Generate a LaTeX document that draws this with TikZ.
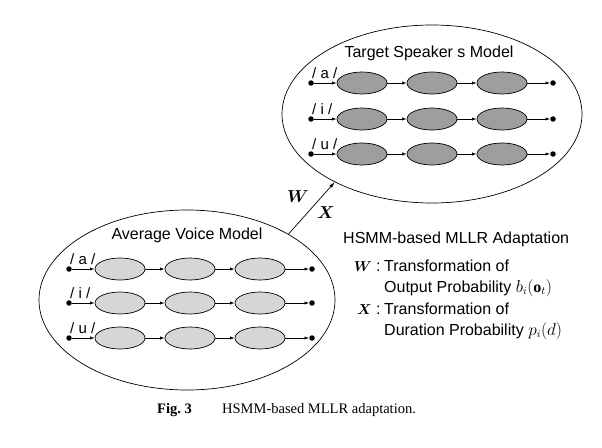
\documentclass[tikz,border=0pt]{standalone}
\usepackage{fontspec}
\setmainfont{Liberation Serif}
\setsansfont{Liberation Sans}
\usepackage{amsmath,bm}
\usetikzlibrary{shapes.geometric,arrows.meta}
\definecolor{topgray}{gray}{0.62}
\definecolor{botgray}{gray}{0.84}
\begin{document}
\begin{tikzpicture}[x=1pt,y=-1pt,
  bigell/.style={draw,ellipse,line width=0.7pt,inner sep=0pt},
  state/.style={draw,ellipse,line width=0.7pt,inner sep=0pt,minimum width=50pt,minimum height=22pt},
  dotnode/.style={circle,fill,inner sep=0pt,minimum size=5.5pt},
  tr/.style={-{Latex[length=4.5pt,width=3.2pt]},line width=0.7pt},
  lab/.style={font=\fontsize{15}{17}\selectfont\sffamily,inner sep=0pt},
  ttl/.style={font=\fontsize{16}{19}\selectfont\sffamily,inner sep=0pt},
  leg/.style={font=\fontsize{16}{19}\selectfont\sffamily,inner sep=0pt,anchor=base west},
  legsym/.style={font=\fontsize{14}{17}\selectfont,inner sep=0pt,anchor=base east},
  captxt/.style={font=\fontsize{14.5}{17}\selectfont\rmfamily,inner sep=0pt,anchor=base west}]
\useasboundingbox (0,0) rectangle (602,447);
\fill[white] (0,0) rectangle (602,447);

% big ellipses
\node[bigell,minimum width=300pt,minimum height=178pt] (top) at (432,114) {};
\node[bigell,minimum width=296pt,minimum height=180pt] (bot) at (187,300) {};

\node[ttl] (ttop) at (429,53) {Target Speaker s Model};
\node[ttl] (tbot) at (187,235) {Average Voice Model};

% top rows
\foreach \y/\ph/\n in {83/a/1,119/i/2,154/u/3}{
  \node[dotnode] (ts\n) at (311,\y) {};
  \node[state,fill=topgray] (ta\n) at (362,\y) {};
  \node[state,fill=topgray] (tb\n) at (432,\y) {};
  \node[state,fill=topgray] (tc\n) at (502,\y) {};
  \node[dotnode] (te\n) at (553,\y) {};
  \draw[tr] (ts\n) -- (ta\n);
  \draw[tr] (ta\n) -- (tb\n);
  \draw[tr] (tb\n) -- (tc\n);
  \draw[tr] (tc\n) -- (te\n);
  \node[lab,anchor=base west] (tl\n) at (312,\y-5) {/ \ph\ /};
}
% bottom rows
\foreach \y/\ph/\n in {269/a/1,303/i/2,338/u/3}{
  \node[dotnode] (bs\n) at (69,\y) {};
  \node[state,fill=botgray] (ba\n) at (120,\y) {};
  \node[state,fill=botgray] (bb\n) at (190,\y) {};
  \node[state,fill=botgray] (bc\n) at (260,\y) {};
  \node[dotnode] (be\n) at (312,\y) {};
  \draw[tr] (bs\n) -- (ba\n);
  \draw[tr] (ba\n) -- (bb\n);
  \draw[tr] (bb\n) -- (bc\n);
  \draw[tr] (bc\n) -- (be\n);
  \node[lab,anchor=base west] (bl\n) at (70,\y-5) {/ \ph\ /};
}

% adaptation arrow
\draw[-{Latex[length=6pt,width=3.5pt]},line width=0.7pt] (bot.33) -- (top.215);
\node[font=\fontsize{18}{21}\selectfont] (wl) at (298,197) {$\bm{W}$};
\node[font=\fontsize{18}{21}\selectfont] (xl) at (326,213) {$\bm{X}$};

% legend
\node[leg] (lh) at (343,243) {HSMM-based MLLR Adaptation};
\node[legsym] (lw) at (372,271) {$\bm{W}$};
\node[leg] (lwc) at (376,271) {:};
\node[leg] (lw1) at (384,271) {Transformation of};
\node[leg] (lw2) at (384,292) {Output Probability $b_i(\mathbf{o}_t)$};
\node[legsym] (lx) at (372,314) {$\bm{X}$};
\node[leg] (lxc) at (376,314) {:};
\node[leg] (lx1) at (384,314) {Transformation of};
\node[leg] (lx2) at (384,335) {Duration Probability $p_i(d)$};

% caption
\node[captxt] (cf) at (157,413) {\bfseries Fig.\ 3};
\node[captxt] (ct) at (222,413) {HSMM-based MLLR adaptation.};
\end{tikzpicture}
\end{document}
